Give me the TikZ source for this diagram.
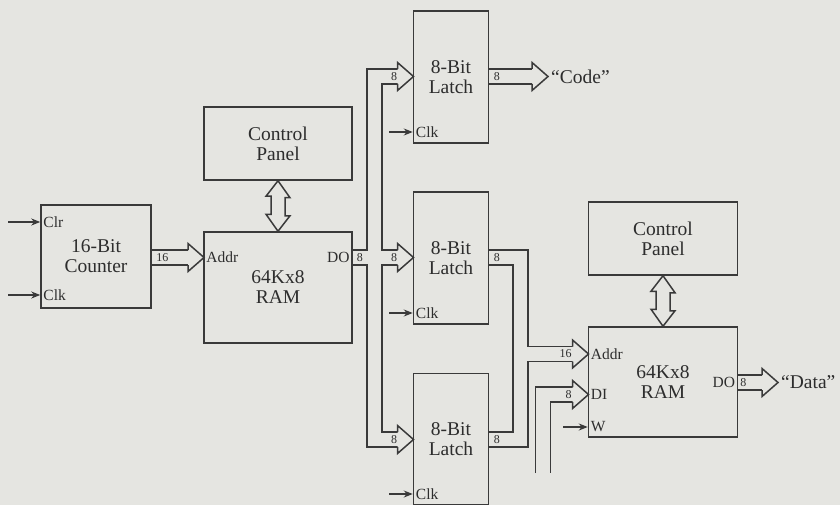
\documentclass[tikz,border=0pt]{standalone}
\usepackage{fontspec}
\setmainfont{Liberation Serif}
\usepackage{tikz}
\usetikzlibrary{positioning,calc,arrows.meta}
\definecolor{paper}{RGB}{229,229,225}
\definecolor{ink}{RGB}{58,58,58}
\definecolor{txt}{RGB}{45,45,45}
\pgfdeclarelayer{background}
\pgfsetlayers{background,main}
\tikzset{>={Stealth[length=9pt,width=7pt]},
bdr/.style={draw=ink,line width=1.5pt,line join=miter},
blk/.style={bdr,rectangle,inner sep=0pt,text=txt,align=center,font=\fontsize{19.5}{20}\selectfont},
ttl/.style={text=txt,inner sep=1pt,font=\fontsize{19.5}{20}\selectfont},
port/.style={text=txt,inner sep=3pt,font=\fontsize{15.5}{16}\selectfont},
wd/.style={text=txt,inner sep=0pt,font=\fontsize{12}{13}\selectfont},
sig/.style={->,draw=ink,line width=1.5pt},
}
% hollow head of a bus, tip at #1
\newcommand\bushead[1]{%
  \fill[paper] ($(#1)+(-16,-14)$) -- (#1) -- ($(#1)+(-16,14)$) -- cycle;
  \draw[bdr] ($(#1)+(-16,-7.5)$) -- ++(0,-6.5) -- (#1) -- ($(#1)+(-16,14)$) -- ++(0,-6.5);
}
% two-way bus between panel and ram
\newcommand\twoway[2]{%
  \draw[bdr,fill=paper] (#1) -- ++(12,17) -- ++(-5,0) -- ++(0,18) -- ++(5,0) -- (#2)
    -- ++(-12,-17) -- ++(5,0) -- ++(0,-18) -- ++(-5,0) -- cycle;
}
\begin{document}
\begin{tikzpicture}[x=1pt,y=-1pt]
	\useasboundingbox (0,0) rectangle (840,505);

	% boxes
	\node[blk,minimum width=110pt,minimum height=103pt] (cnt) at (96,256.5) {16-Bit\\Counter};
	\node[blk,minimum width=148pt,minimum height=111pt] (ram1) at (278,287.5) {64Kx8\\RAM};
	\node[blk,minimum width=148pt,minimum height=73pt] (cp1) at (278,143.5) {Control\\Panel};
	\node[blk,minimum width=75pt,minimum height=132pt] (lt1) at (451,77) {8-Bit\\Latch};
	\node[blk,minimum width=75pt,minimum height=132pt] (lt2) at (451,258) {8-Bit\\Latch};
	\node[blk,minimum width=75pt,minimum height=131pt] (lt3) at (451,439) {8-Bit\\Latch};
	\node[blk,minimum width=149pt,minimum height=73pt] (cp2) at (663,238.5) {Control\\Panel};
	\node[blk,minimum width=149pt,minimum height=110pt] (ram2) at (663,382) {64Kx8\\RAM};

	% bus points
	\coordinate (ram1addr) at (204,257.5);
	\coordinate (lt1in) at (413.5,76.5);
	\coordinate (lt2in) at (413.5,257.5);
	\coordinate (lt3in) at (413.5,439.5);
	\coordinate (codeout) at (548,76.5);
	\coordinate (jtop) at (374.5,76.5);
	\coordinate (jbot) at (374.5,439.5);
	\coordinate (jaddr) at (520.5,354);
	\coordinate (ram2addr) at (588.5,354);
	\coordinate (difree) at (543,473);
	\coordinate (jdi) at (543,394.5);
	\coordinate (ram2di) at (588.5,394.5);
	\coordinate (dataout) at (778,382.5);

	% signal inputs
	\coordinate (clrin) at (8,222);
	\coordinate (clkin) at (8,295);
	\coordinate (clk1in) at (389,132);
	\coordinate (clk2in) at (389,313);
	\coordinate (clk3in) at (389,494);
	\coordinate (win) at (563,427);

	\begin{pgfonlayer}{background}
		\fill[paper] (0,0) rectangle (840,505);
		\foreach \c/\w in {ink/16.5pt,paper/13.5pt}
			\draw[draw=\c,line width=\w,line join=miter]
			(cnt.east |- ram1addr) -- ($(ram1addr)+(-16,0)$)
			(ram1.east |- lt2in) -- ($(lt2in)+(-16,0)$)
			($(lt1in)+(-16,0)$) -- (jtop) -- (jbot) -- ($(lt3in)+(-16,0)$)
			(lt1.east |- codeout) -- ($(codeout)+(-16,0)$)
			(lt2.east |- lt2in) -- (jaddr |- lt2in) -- (jaddr) -- ($(ram2addr)+(-16,0)$)
			(lt3.east |- lt3in) -- (jaddr |- lt3in) -- (jaddr)
			(difree) -- (jdi) -- ($(ram2di)+(-16,0)$)
			(ram2.east |- dataout) -- ($(dataout)+(-16,0)$);
	\end{pgfonlayer}

	\foreach \p in {ram1addr,lt1in,lt2in,lt3in,codeout,ram2addr,ram2di,dataout}
		\bushead{\p};

	\twoway{cp1.south}{ram1.north}
	\twoway{cp2.south}{ram2.north}

	% control inputs
	\draw[sig] (clrin) -- (clrin -| cnt.west);
	\draw[sig] (clkin) -- (clkin -| cnt.west);
	\draw[sig] (clk1in) -- (clk1in -| lt1.west);
	\draw[sig] (clk2in) -- (clk2in -| lt2.west);
	\draw[sig] (clk3in) -- (clk3in -| lt3.west);
	\draw[sig] (win) -- (win -| ram2.west);

	% port names
	\node[port,anchor=west] (clr) at (cnt.west |- clrin) {Clr};
	\node[port,anchor=west] (clk) at (cnt.west |- clkin) {Clk};
	\node[port,anchor=west] (addr1) at (ram1.west |- ram1addr) {Addr};
	\node[port,anchor=east] (do1) at (ram1.east |- lt2in) {DO};
	\node[port,anchor=west] (clk1) at (lt1.west |- clk1in) {Clk};
	\node[port,anchor=west] (clk2) at (lt2.west |- clk2in) {Clk};
	\node[port,anchor=west] (clk3) at (lt3.west |- clk3in) {Clk};
	\node[port,anchor=west] (addr2) at (ram2.west |- ram2addr) {Addr};
	\node[port,anchor=west] (di2) at (ram2.west |- ram2di) {DI};
	\node[port,anchor=west] (w2) at (ram2.west |- win) {W};
	\node[port,anchor=east] (do2) at (ram2.east |- dataout) {DO};

	% bus widths
	\node[wd] (wcnt) at ($(cnt.east |- ram1addr)+(10.5,0)$) {16};
	\node[wd] (wram1) at ($(ram1.east |- lt2in)+(7,0)$) {8};
	\node[wd] (win1) at ($(lt1in)+(-19.5,0)$) {8};
	\node[wd] (win2) at ($(lt2in)+(-19.5,0)$) {8};
	\node[wd] (win3) at ($(lt3in)+(-19.5,0)$) {8};
	\node[wd] (wout1) at ($(lt1.east |- codeout)+(7.5,0)$) {8};
	\node[wd] (wout2) at ($(lt2.east |- lt2in)+(7.5,0)$) {8};
	\node[wd] (wout3) at ($(lt3.east |- lt3in)+(7.5,0)$) {8};
	\node[wd] (waddr2) at ($(ram2addr)+(-23,0)$) {16};
	\node[wd] (wdi2) at ($(ram2di)+(-20,0)$) {8};
	\node[wd] (wram2) at ($(ram2.east |- dataout)+(5,0)$) {8};

	\node[ttl,anchor=west] (code) at ($(codeout)+(2,0)$) {“Code”};
	\node[ttl,anchor=west] (data) at ($(dataout)+(2,0)$) {“Data”};
\end{tikzpicture}
\end{document}
